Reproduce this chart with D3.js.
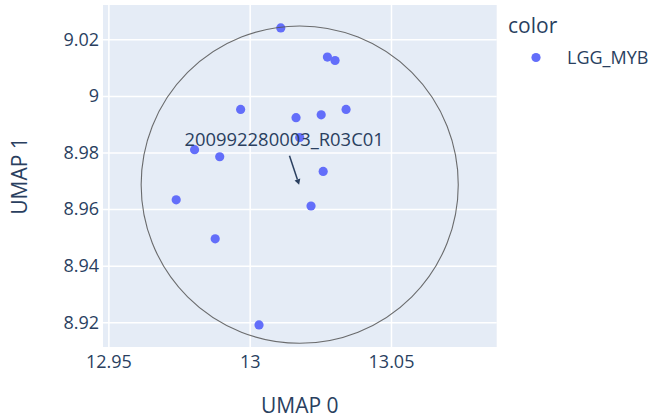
<!DOCTYPE html>
<html><head><meta charset="utf-8">
<script src="https://cdn.jsdelivr.net/npm/d3@7"></script>
<style>body{margin:0;background:#fff} text{font-family:"Open Sans",sans-serif}</style>
</head><body><svg id="c" width="654" height="419"></svg>
<script>
// ---- data ----
const umap0 = [13.0110, 13.0275, 13.0302, 12.9968, 13.0164, 13.0253, 13.0341, 13.0177, 12.9805, 12.9894, 13.0260, 12.9740, 13.0217, 12.9878, 13.0033];
const umap1 = [9.0240, 9.0137, 9.0125, 8.9952, 8.9923, 8.9933, 8.9952, 8.9853, 8.9810, 8.9785, 8.9733, 8.9633, 8.9611, 8.9495, 8.9191];
const xTickValues = [12.95, 13, 13.05];
const xTickLabels = ["12.95", "13", "13.05"];
const yTickValues = [8.92, 8.94, 8.96, 8.98, 9, 9.02];
const yTickLabels = ["8.92", "8.94", "8.96", "8.98", "9", "9.02"];
const xDomain = [12.9481, 13.0874];
const yDomain = [8.9113, 9.0321];
const seriesName = "LGG_MYB";
const legendTitle = "color";
const xTitle = "UMAP 0";
const yTitle = "UMAP 1";
const annotationLabel = "200992280003_R03C01";
const annotationPoint = [13.0175, 8.9686];
const circleBounds = [12.9616, 13.0738, 8.9126, 9.0247]; // x0, x1, y0, y1

// ---- layout ----
const W = 654, H = 419;
const L = 103, R = 496.7, T = 5, B = 347;
const txtColor = "#2a3f5f", markColor = "#636efa";
const svg = d3.select("#c");
const x = d3.scaleLinear().domain(xDomain).range([L, R]);
const y = d3.scaleLinear().domain(yDomain).range([B, T]);

svg.append("rect").attr("x", L).attr("y", T).attr("width", R - L).attr("height", B - T).attr("fill", "#E5ECF6");

// gridlines
const gx = svg.append("g").attr("transform", `translate(0,${B})`)
  .call(d3.axisBottom(x).tickValues(xTickValues).tickSize(-(B - T)).tickFormat(""));
gx.select(".domain").remove();
gx.selectAll("line").attr("stroke", "#fff").attr("stroke-width", 1.5);
const gy = svg.append("g").attr("transform", `translate(${L},0)`)
  .call(d3.axisLeft(y).tickValues(yTickValues).tickSize(-(R - L)).tickFormat(""));
gy.select(".domain").remove();
gy.selectAll("line").attr("stroke", "#fff").attr("stroke-width", 1.5);

// tick labels
const ax = svg.append("g").attr("transform", `translate(0,${B})`)
  .call(d3.axisBottom(x).tickValues(xTickValues).tickSize(0).tickPadding(8).tickFormat((d, i) => xTickLabels[i]));
ax.select(".domain").remove();
ax.selectAll("text").attr("fill", txtColor).style("font-size", "18px").style("font-family", "'Open Sans'");
const ay = svg.append("g").attr("transform", `translate(${L},0)`)
  .call(d3.axisLeft(y).tickValues(yTickValues).tickSize(0).tickPadding(4).tickFormat((d, i) => yTickLabels[i]));
ay.select(".domain").remove();
ay.selectAll("text").attr("fill", txtColor).style("font-size", "18px").style("font-family", "'Open Sans'");

// axis titles
svg.append("text").attr("x", (L + R) / 2).attr("y", 413).attr("text-anchor", "middle")
  .attr("fill", txtColor).style("font-size", "21px").text(xTitle);
svg.append("text").attr("transform", `translate(27,${(T + B) / 2}) rotate(-90)`).attr("text-anchor", "middle")
  .attr("fill", txtColor).style("font-size", "21px").text(yTitle);

// clip
svg.append("clipPath").attr("id", "clip").append("rect").attr("x", L).attr("y", T).attr("width", R - L).attr("height", B - T);
const plot = svg.append("g").attr("clip-path", "url(#clip)");

// points
const pts = umap0.map((v, i) => [v, umap1[i]]);
plot.selectAll("circle.pt").data(pts).join("circle").attr("class", "pt")
  .attr("cx", d => x(d[0])).attr("cy", d => y(d[1])).attr("r", 4.6).attr("fill", markColor);

// circle shape
const [cx0, cx1, cy0, cy1] = circleBounds;
plot.append("ellipse")
  .attr("cx", (x(cx0) + x(cx1)) / 2).attr("cy", (y(cy0) + y(cy1)) / 2)
  .attr("rx", Math.abs(x(cx1) - x(cx0)) / 2).attr("ry", Math.abs(y(cy1) - y(cy0)) / 2)
  .attr("fill", "none").attr("stroke", "#555").attr("stroke-opacity", 0.85).attr("stroke-width", 1.1);

// annotation
const tipX = x(annotationPoint[0]), tipY = y(annotationPoint[1]);
const tcx = tipX - 15, tcy = tipY - 45;
const halfH = 16;
const dxv = tipX - tcx, dyv = tipY - tcy;
const t0 = halfH / dyv;
const sx = tcx + dxv * t0, sy = tcy + dyv * t0;
const len = Math.hypot(tipX - sx, tipY - sy);
const ux = (tipX - sx) / len, uy = (tipY - sy) / len;
const headLen = 5.5, headW = 3;
const bx = tipX - ux * headLen, by = tipY - uy * headLen;
svg.append("line").attr("x1", sx).attr("y1", sy).attr("x2", bx).attr("y2", by)
  .attr("stroke", txtColor).attr("stroke-width", 1.5);
svg.append("path")
  .attr("d", `M${tipX},${tipY}L${bx - uy * headW},${by + ux * headW}L${bx + uy * headW},${by - ux * headW}Z`)
  .attr("fill", txtColor);
svg.append("text").attr("x", tcx).attr("y", tcy).attr("dy", "0.35em").attr("text-anchor", "middle")
  .attr("fill", txtColor).style("font-size", "18.4px").text(annotationLabel);

// legend
svg.append("text").attr("x", 508).attr("y", 33).attr("fill", txtColor).style("font-size", "21px").text(legendTitle);
svg.append("circle").attr("cx", 536).attr("cy", 57.5).attr("r", 4.6).attr("fill", markColor);
svg.append("text").attr("x", 567).attr("y", 64).attr("fill", txtColor).style("font-size", "18px").text(seriesName);
</script></body></html>
